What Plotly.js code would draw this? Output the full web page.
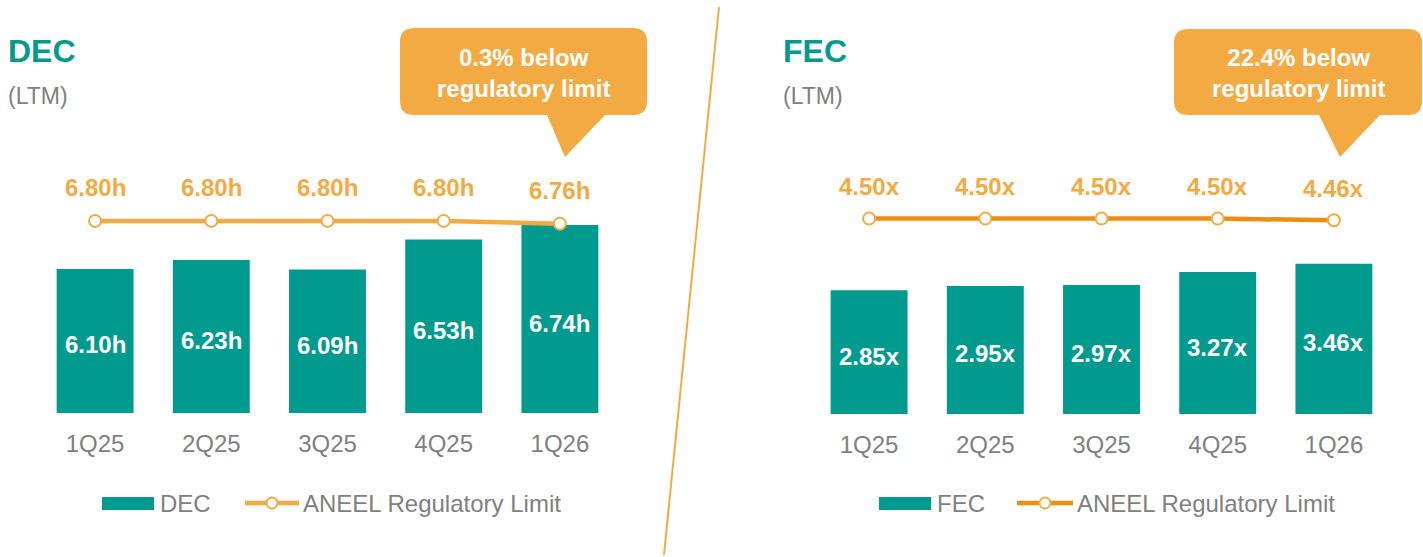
<!DOCTYPE html>
<html>
<head>
<meta charset="utf-8">
<script src="https://cdn.plot.ly/plotly-3.0.1.min.js"></script>
<style>html,body{margin:0;padding:0;background:#fff;}#chart{width:1423px;height:557px;}</style>
</head>
<body>
<div id="chart"></div>
<script>
// ---- data ----
const categories = ['1Q25', '2Q25', '3Q25', '4Q25', '1Q26'];
const decValues = [6.10, 6.23, 6.09, 6.53, 6.74];
const decLimit = [6.80, 6.80, 6.80, 6.80, 6.76];
const fecValues = [2.85, 2.95, 2.97, 3.27, 3.46];
const fecLimit = [4.50, 4.50, 4.50, 4.50, 4.46];
const decSuffix = 'h';
const fecSuffix = 'x';
const decCallout = ['0.3% below', 'regulatory limit'];
const fecCallout = ['22.4% below', 'regulatory limit'];
const panelTitles = ['DEC', 'FEC'];
const panelSubtitle = '(LTM)';
const limitName = 'ANEEL Regulatory Limit';

// ---- style ----
const W = 1423, H = 557;
const px = x => x / W;
const py = y => 1 - y / H;
const TEAL = '#009B8E';
const ORANGE = '#F4AA43';
const ORANGE_DARK = '#EE8D12';
const GRAY = '#7F7F7F';
const FONT = 'Liberation Sans, Arial, sans-serif';
const decRange = [4, 8.125];
const fecRange = [0, 6.54];

const traces = [
  {type: 'bar', x: categories, y: decValues, name: 'DEC', xaxis: 'x', yaxis: 'y',
   marker: {color: TEAL, line: {width: 0}}, width: 0.662, showlegend: false, hoverinfo: 'x+y'},
  {type: 'scatter', mode: 'lines+markers', x: categories, y: decLimit, name: limitName, xaxis: 'x', yaxis: 'y',
   line: {color: ORANGE, width: 4.5}, marker: {size: 12, color: '#fff', line: {color: ORANGE, width: 2}},
   showlegend: false, cliponaxis: false},
  {type: 'bar', x: categories, y: fecValues, name: 'FEC', xaxis: 'x2', yaxis: 'y2',
   marker: {color: TEAL, line: {width: 0}}, width: 0.662, showlegend: false, hoverinfo: 'x+y'},
  {type: 'scatter', mode: 'lines+markers', x: categories, y: fecLimit, name: limitName, xaxis: 'x2', yaxis: 'y2',
   line: {color: ORANGE_DARK, width: 4.5}, marker: {size: 12, color: '#fff', line: {color: ORANGE, width: 2}},
   showlegend: false, cliponaxis: false}
];

const annotations = [];
const shapes = [];
function addPanelLabels(vals, lims, ymin, suffix, xa, ya, lineShift) {
  vals.forEach((v, i) => {
    annotations.push({x: categories[i], y: (v + ymin) / 2, xref: xa, yref: ya, showarrow: false, yshift: -4,
      xanchor: 'center', yanchor: 'middle',
      text: '<b>' + v.toFixed(2) + suffix + '</b>', font: {family: FONT, size: 24, color: '#fff'}});
  });
  lims.forEach((v, i) => {
    annotations.push({x: categories[i], y: v, xref: xa, yref: ya, showarrow: false, yshift: lineShift,
      xanchor: 'center', yanchor: 'middle',
      text: '<b>' + v.toFixed(2) + suffix + '</b>', font: {family: FONT, size: 24, color: ORANGE}});
  });
}
addPanelLabels(decValues, decLimit, decRange[0], decSuffix, 'x', 'y', 33);
addPanelLabels(fecValues, fecLimit, fecRange[0], fecSuffix, 'x2', 'y2', 32);

// titles
[[6, panelTitles[0]], [781, panelTitles[1]]].forEach(([x, t]) => {
  annotations.push({x: px(x), y: py(51), xref: 'paper', yref: 'paper', xanchor: 'left', yanchor: 'middle',
    showarrow: false, text: '<b>' + t + '</b>', font: {family: FONT, size: 32, color: TEAL}});
  annotations.push({x: px(x), y: py(96), xref: 'paper', yref: 'paper', xanchor: 'left', yanchor: 'middle',
    showarrow: false, text: panelSubtitle, font: {family: FONT, size: 23, color: GRAY}});
});

// callouts
function callout(x0, y0, x1, y1, tb0, tb1, tipx, tipy, lines) {
  const r = 14;
  const P = (x, y) => px(x) + ',' + py(y);
  const path = 'M' + P(x0 + r, y0) + ' L' + P(x1 - r, y0) + ' Q' + P(x1, y0) + ' ' + P(x1, y0 + r) +
    ' L' + P(x1, y1 - r) + ' Q' + P(x1, y1) + ' ' + P(x1 - r, y1) +
    ' L' + P(tb1, y1) + ' L' + P(tipx, tipy) + ' L' + P(tb0, y1) +
    ' L' + P(x0 + r, y1) + ' Q' + P(x0, y1) + ' ' + P(x0, y1 - r) +
    ' L' + P(x0, y0 + r) + ' Q' + P(x0, y0) + ' ' + P(x0 + r, y0) + ' Z';
  shapes.push({type: 'path', xref: 'paper', yref: 'paper', path: path, fillcolor: ORANGE, line: {width: 0}, layer: 'below'});
  annotations.push({x: px((x0 + x1) / 2), y: py(73), xref: 'paper', yref: 'paper', showarrow: false,
    xanchor: 'center', yanchor: 'middle',
    text: '<b>' + lines[0] + '<br>' + lines[1] + '</b>', align: 'center',
    font: {family: FONT, size: 24, color: '#fff'}});
}
callout(400, 28, 647, 115, 547, 605, 565, 157, decCallout);
callout(1174, 29, 1422, 115, 1319, 1380, 1340, 157, fecCallout);

// separator
shapes.push({type: 'line', xref: 'paper', yref: 'paper', x0: px(719), y0: py(7), x1: px(664), y1: py(555),
  line: {color: ORANGE, width: 2}});

// legends
function legend(rx, lineX0, lineX1, lineColor, barName) {
  shapes.push({type: 'rect', xref: 'paper', yref: 'paper', x0: px(rx), x1: px(rx + 52), y0: py(497), y1: py(510),
    fillcolor: TEAL, line: {width: 0}});
  annotations.push({x: px(rx + 56), y: py(503), xref: 'paper', yref: 'paper', xanchor: 'left', yanchor: 'middle',
    showarrow: false, text: barName, font: {family: FONT, size: 24, color: GRAY}});
  shapes.push({type: 'line', xref: 'paper', yref: 'paper', x0: px(lineX0), x1: px(lineX1), y0: py(503), y1: py(503),
    line: {color: lineColor, width: 4.5}});
  const cx = (lineX0 + lineX1) / 2;
  shapes.push({type: 'circle', xref: 'paper', yref: 'paper', x0: px(cx - 5.5), x1: px(cx + 5.5), y0: py(497.5), y1: py(508.5),
    fillcolor: '#fff', line: {color: ORANGE, width: 2}});
  annotations.push({x: px(lineX1 + 2), y: py(503), xref: 'paper', yref: 'paper', xanchor: 'left', yanchor: 'middle',
    showarrow: false, text: limitName, font: {family: FONT, size: 24, color: GRAY}});
}
legend(102, 245, 299, ORANGE, panelTitles[0]);
legend(879, 1017, 1073, ORANGE_DARK, panelTitles[1]);

const xaxisCommon = {type: 'category', range: [-0.5, 4.5], showgrid: false, zeroline: false, showline: false,
  ticks: '', ticklabelstandoff: 14, tickfont: {family: FONT, size: 24, color: GRAY}, fixedrange: true};
const yaxisCommon = {showgrid: false, zeroline: false, showline: false, showticklabels: false, ticks: '', fixedrange: true};

const layout = {
  width: W, height: H,
  margin: {l: 0, r: 0, t: 0, b: 0},
  paper_bgcolor: '#fff', plot_bgcolor: 'rgba(0,0,0,0)',
  showlegend: false,
  bargap: 0.3,
  xaxis: Object.assign({}, xaxisCommon, {domain: [px(37), px(618)], anchor: 'y'}),
  yaxis: Object.assign({}, yaxisCommon, {domain: [py(413), py(130)], range: decRange, anchor: 'x'}),
  xaxis2: Object.assign({}, xaxisCommon, {domain: [px(811), px(1392)], anchor: 'y2'}),
  yaxis2: Object.assign({}, yaxisCommon, {domain: [py(414), py(130)], range: fecRange, anchor: 'x2'}),
  annotations: annotations,
  shapes: shapes,
  font: {family: FONT}
};

Plotly.newPlot('chart', traces, layout, {displayModeBar: false, staticPlot: true});
</script>
</body>
</html>
